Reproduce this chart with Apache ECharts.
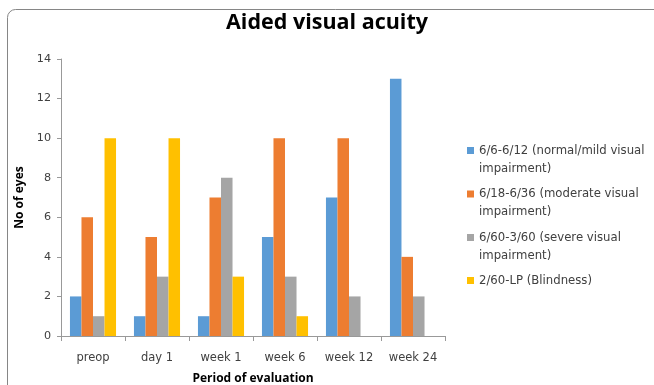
<!DOCTYPE html>
<html>
<head>
<meta charset="utf-8">
<script src="https://cdn.jsdelivr.net/npm/echarts@6/dist/echarts.min.js"></script>
<style>html,body{margin:0;padding:0;background:#fff;}#c{width:654px;height:385px;}</style>
</head>
<body>
<div id="c"></div>
<script>
var title = 'Aided visual acuity';
var categories = ['preop', 'day 1', 'week 1', 'week 6', 'week 12', 'week 24'];
var seriesNames = [
  '6/6-6/12 (normal/mild visual impairment)',
  '6/18-6/36 (moderate visual impairment)',
  '6/60-3/60 (severe visual impairment)',
  '2/60-LP (Blindness)'
];
var legendLabels = [
  '6/6-6/12 (normal/mild visual\nimpairment)',
  '6/18-6/36 (moderate visual\nimpairment)',
  '6/60-3/60 (severe visual\nimpairment)',
  '2/60-LP (Blindness)'
];
var normalMild = [2, 1, 1, 5, 7, 13];
var moderate = [6, 5, 7, 10, 10, 4];
var severe = [1, 3, 8, 3, 2, 2];
var blindness = [10, 10, 3, 1, 0, 0];
var yTicks = [0, 2, 4, 6, 8, 10, 12, 14];
var colors = ['#5B9BD5', '#ED7D31', '#A5A5A5', '#FFC000'];
var values = [normalMild, moderate, severe, blindness];

var chart = echarts.init(document.getElementById('c'), null, {renderer: 'canvas'});
var txt = '#404040';
var legendText = {fontFamily: 'DejaVu Sans', fontSize: 11.7, color: txt, lineHeight: 18};
// square icon sitting at the top of a 7x25 box, so it lines up with the first text line
var topSquare = 'path://M0,0L7,0L7,7L0,7Z M0,25L0,25';
var option = {
  animation: false,
  color: colors,
  title: {
    text: title, left: 'center', top: 7,
    textStyle: {fontFamily: 'Open Sans', fontWeight: 'bold', fontSize: 21.5, color: '#000'}
  },
  graphic: [{
    type: 'rect', silent: true, z: -1,
    shape: {x: 7.5, y: 9.5, width: 760, height: 500, r: 8},
    style: {fill: 'none', stroke: '#868686', lineWidth: 1}
  }],
  legend: [{
    orient: 'vertical', left: 467, top: 141.5, padding: 0,
    itemWidth: 7, itemHeight: 25, itemGap: 7.5, icon: topSquare,
    textStyle: legendText,
    data: seriesNames.slice(0, 3),
    formatter: function (n) { return legendLabels[seriesNames.indexOf(n)]; }
  }, {
    orient: 'vertical', left: 467, top: 271.5, padding: 0,
    itemWidth: 7, itemHeight: 7, icon: 'rect',
    textStyle: legendText,
    data: seriesNames.slice(3),
    formatter: function (n) { return legendLabels[seriesNames.indexOf(n)]; }
  }],
  grid: {left: 61, right: 209, top: 59, bottom: 49, outerBoundsMode: 'none', containLabel: false},
  xAxis: {
    type: 'category', data: categories,
    name: 'Period of evaluation', nameLocation: 'middle', nameGap: 37,
    nameTextStyle: {fontFamily: 'Open Sans', fontWeight: 'bold', fontSize: 12, color: '#000'},
    axisLine: {lineStyle: {color: '#999', width: 1}},
    axisTick: {show: true, length: 5, lineStyle: {color: '#999'}},
    axisLabel: {fontFamily: 'DejaVu Sans', fontSize: 11.5, color: txt, margin: 16}
  },
  yAxis: {
    type: 'value', min: 0, max: 14, interval: 2,
    name: 'No of eyes', nameLocation: 'middle', nameGap: 34,
    nameTextStyle: {fontFamily: 'Open Sans', fontWeight: 'bold', fontSize: 12, color: '#000'},
    axisLine: {show: true, lineStyle: {color: '#999', width: 1}},
    axisTick: {show: true, length: 4, lineStyle: {color: '#999'}},
    splitLine: {show: false},
    axisLabel: {fontFamily: 'DejaVu Sans', fontSize: 11.2, color: txt, margin: 10,
      formatter: function (v) { return yTicks.indexOf(v) >= 0 ? String(v) : ''; }}
  },
  series: seriesNames.map(function (n, i) {
    return {
      name: n, type: 'bar', data: values[i],
      barGap: '0%', barCategoryGap: '28%',
      itemStyle: {color: colors[i]}
    };
  })
};
chart.setOption(option);
</script>
</body>
</html>
